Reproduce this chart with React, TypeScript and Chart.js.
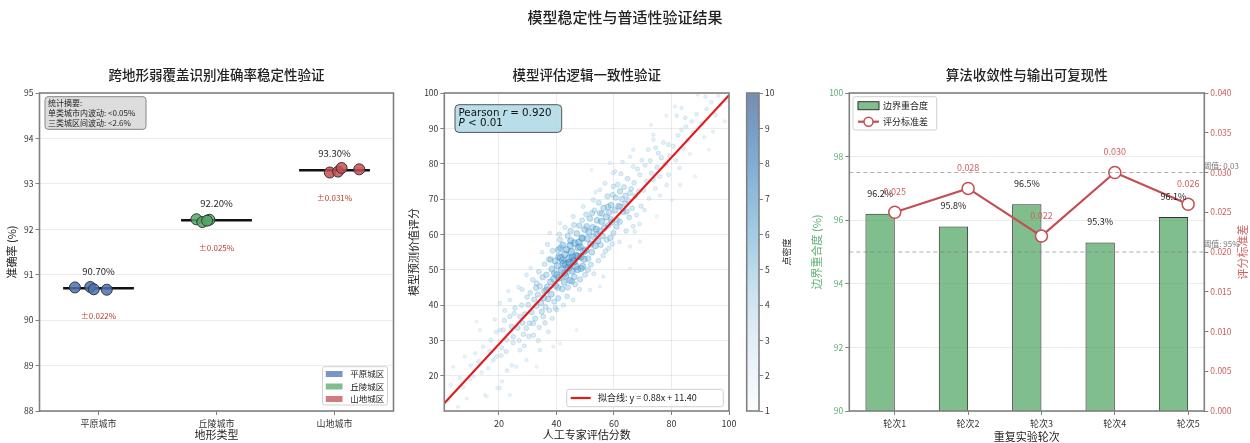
import React, { useEffect, useRef } from 'react';
import { Chart, registerables } from 'chart.js';
Chart.register(...registerables);

const FONT = "'Noto Sans CJK SC', 'DejaVu Sans', sans-serif";
const MATH_FONT = "'DejaVu Sans', sans-serif";

// ---------- titles ----------
const mainTitle = '模型稳定性与普适性验证结果';
const panelTitles = ['跨地形弱覆盖识别准确率稳定性验证', '模型评估逻辑一致性验证', '算法收敛性与输出可复现性'];

// ---------- panel 1: accuracy stability ----------
const terrainCities = ['平原城市', '丘陵城市', '山地城市'];
const terrainZones = ['平原城区', '丘陵城区', '山地城区'];
const terrainColors = ['#4C72B0', '#55A868', '#C44E52'];
const terrainMeans = [90.7, 92.2, 93.3];
const terrainStd = [0.022, 0.025, 0.031];
const plainJitter = [-0.2, -0.07, -0.04, 0.07];
const plainAccuracy = [90.72, 90.73, 90.68, 90.67];
const hillJitter = [-0.17, -0.12, -0.06, -0.08];
const hillAccuracy = [92.22, 92.16, 92.21, 92.19];
const mountainJitter = [-0.04, 0.03, 0.06, 0.21];
const mountainAccuracy = [93.25, 93.27, 93.35, 93.32];
const accuracyTicks = [88, 89, 90, 91, 92, 93, 94, 95];
const statsLines = ['统计摘要:', '单类城市内波动: <0.05%', '三类城区间波动: <2.6%'];

// ---------- panel 2: consistency scatter ----------
const expertModelPairs: number[][] = [
  [4.1,22.6],[5.8,11.3],[6.4,19.4],[8.8,13.6],[9.9,19.0],[11.1,19.9],[12.2,35.4],[13.4,33.0],[14.5,28.3],[15.1,14.6],[15.8,14.2],[16.3,22.2],[18.0,24.5],[19.2,25.5],[17.2,30.1],[11.8,26.4],[14.0,21.0],[7.5,16.8],[3.2,17.5],[19.5,16.6],[18.6,36.0],[16.8,27.0],[12.9,24.1],[10.2,23.0],[8.1,25.5],[19.0,32.4],[2.5,13.0],
  [20.3,40.6],[20.3,33.0],[21.5,33.0],[22.7,30.2],[23.8,36.8],[23.8,41.5],[25.0,31.1],[26.1,22.6],[27.3,27.3],[27.3,36.8],[29.6,24.5],[29.6,48.6],[21.0,28.0],[22.0,38.5],[24.4,34.0],[25.6,39.2],[26.5,33.6],[27.9,40.0],[28.5,31.8],[29.0,37.5],[20.8,25.8],[22.5,26.9],[24.9,29.4],[23.3,44.0],[26.8,45.1],[28.2,35.0],[29.8,42.3],[21.9,35.7],[25.3,37.7],[27.0,30.0],[28.8,28.5],[20.3,16.6],[21.1,18.5],[23.8,14.6],[24.5,23.0],[22.8,21.5],[28.0,44.5],[29.5,33.5],
  [30.7,34.9],[31.9,34.9],[33.1,22.6],[34.3,27.3],[35.4,36.8],[36.6,44.3],[33.1,46.2],[38.9,28.3],[30.2,40.1],[30.9,43.5],[31.4,38.0],[31.8,47.2],[32.3,41.6],[32.6,36.2],[33.0,39.8],[33.5,43.0],[33.9,49.5],[34.2,45.4],[34.6,40.7],[34.9,38.2],[35.2,47.9],[35.6,42.1],[35.9,51.6],[36.2,39.5],[36.5,48.6],[36.8,45.2],[37.1,41.8],[37.4,53.0],[37.7,60.4],[37.9,46.6],[38.2,43.1],[38.4,50.2],[38.7,55.4],[39.0,47.4],[39.2,41.0],[39.5,52.5],[39.8,45.5],[30.4,31.2],[32.0,31.5],[34.0,33.7],[36.0,35.0],[37.5,38.6],[38.5,36.3],[39.6,39.2],[31.0,50.5],[35.0,55.0],[36.9,57.2],[33.7,30.0],[37.2,32.5],[39.3,49.0],[38.0,52.9],[35.8,44.0],[32.9,44.9],
  [40.1,48.6],[40.1,38.7],[41.2,63.2],[41.2,58.5],[41.2,29.2],[40.3,51.2],[40.5,45.0],[40.7,55.7],[40.9,47.8],[41.5,53.4],[41.8,49.9],[42.0,44.6],[42.2,57.0],[42.5,51.8],[42.7,46.5],[42.9,54.4],[43.2,48.3],[43.5,55.7],[43.7,42.5],[43.9,59.6],[44.2,50.6],[44.4,53.2],[44.7,47.0],[44.9,61.0],[45.2,55.1],[45.4,49.7],[45.8,65.1],[45.8,41.5],[46.0,52.4],[46.3,57.6],[46.5,45.9],[46.8,54.0],[47.0,33.0],[47.1,60.3],[47.3,50.1],[47.6,56.3],[47.9,62.5],[48.2,56.6],[48.2,47.3],[48.5,53.7],[48.8,58.9],[49.1,51.0],[49.3,67.9],[49.5,55.2],[49.8,61.4],[49.9,48.6],[40.6,42.0],[41.0,60.1],[42.4,40.0],[43.0,62.0],[44.0,45.0],[45.0,58.2],[46.2,48.0],[47.4,53.8],[48.0,44.5],[49.0,59.0],[44.5,52.0],[46.7,51.0],[42.1,52.7],[48.6,50.4],[45.6,53.5],[41.4,56.2],[43.3,51.5],[47.8,57.8],[49.6,53.0],[44.8,56.9],[46.1,62.7],[42.8,49.1],[40.8,53.7],[48.9,64.0],[45.3,46.8],
  [50.5,62.3],[51.7,44.3],[52.2,78.3],[52.8,69.8],[55.1,72.6],[55.1,66.0],[55.1,45.3],[56.3,48.1],[57.5,58.5],[58.6,80.2],[59.8,77.4],[59.8,73.6],[59.8,60.4],[50.2,55.6],[50.7,58.8],[51.0,53.2],[51.3,60.7],[51.6,64.5],[51.9,57.3],[52.3,55.0],[52.6,62.0],[52.9,59.4],[53.2,66.8],[53.5,56.8],[53.8,61.5],[54.1,64.0],[54.4,58.2],[54.7,69.0],[55.0,61.0],[55.4,57.0],[55.7,63.7],[56.0,59.6],[56.4,67.5],[56.7,61.9],[57.0,55.3],[57.3,64.9],[57.7,70.8],[58.0,62.6],[58.3,66.2],[58.7,59.0],[59.0,68.3],[59.3,63.5],[59.6,71.2],[50.9,50.0],[52.0,51.5],[53.0,48.9],[54.6,52.6],[56.2,54.0],[58.2,56.1],[59.4,57.3],[53.6,72.0],[56.9,74.5],[55.8,65.9],[57.9,67.8],[54.0,60.1],[52.4,66.0],[58.9,64.3],[50.3,65.7],
  [61.0,64.1],[62.1,72.2],[62.1,67.9],[64.4,66.5],[65.6,82.0],[65.6,71.7],[65.6,56.6],[65.6,50.5],[66.7,84.0],[66.7,79.2],[66.7,62.3],[69.0,76.9],[69.0,58.0],[60.3,66.8],[60.6,70.4],[60.9,62.2],[61.3,74.1],[61.6,68.0],[62.0,63.6],[62.4,77.2],[62.8,70.0],[63.2,66.4],[63.5,73.4],[63.9,68.7],[64.2,61.0],[64.7,75.8],[65.0,69.6],[65.3,64.8],[66.0,72.9],[66.3,67.4],[67.0,74.6],[67.4,70.9],[67.8,65.5],[68.2,78.5],[68.6,72.2],[69.4,68.0],[69.7,81.0],[60.4,77.9],[61.9,57.9],[63.0,80.5],[64.0,71.0],[67.2,60.8],[68.9,63.0],
  [71.9,84.0],[73.7,88.2],[73.7,86.8],[73.7,75.5],[74.9,65.1],[75.4,83.0],[78.3,93.6],[78.3,74.0],[78.9,85.4],[70.3,72.5],[70.8,79.6],[71.4,75.0],[72.1,70.2],[72.6,80.9],[73.1,77.3],[74.4,73.0],[75.0,79.0],[75.9,76.4],[76.5,81.7],[77.2,86.0],[77.8,79.9],[79.4,82.2],[70.6,66.9],[72.9,91.0],[76.0,71.0],[79.0,76.9],[74.5,84.5],
  [80.1,69.8],[81.2,96.2],[81.8,93.6],[83.0,74.0],[83.5,95.8],[83.5,89.6],[87.0,92.0],[88.2,76.4],[89.1,99.6],[80.6,85.0],[81.5,81.0],[82.3,88.0],[84.2,84.3],[85.0,90.5],[85.7,86.6],[86.4,82.8],[87.6,88.9],[88.7,94.0],[82.8,78.8],[84.8,93.0],
  [94.5,89.1],[96.3,99.2],[98.6,92.0],[90.5,91.3],[91.4,87.5],[92.2,95.5],[93.0,84.0],[95.3,93.8],[97.0,96.5],[99.0,97.8],[91.8,99.0],[93.9,97.4],
];
const fitSlope = 0.88;
const fitIntercept = 11.4;
const pearsonR = 0.92;
const expertRange = [1, 100];
const modelRange = [10.1, 100];
const scoreTicks = [20, 40, 60, 80, 100];
const modelTicks = [20, 30, 40, 50, 60, 70, 80, 90, 100];
const densityTicks = [1, 2, 3, 4, 5, 6, 7, 8, 9, 10];

// ---------- panel 3: convergence ----------
const rounds = ['轮次1', '轮次2', '轮次3', '轮次4', '轮次5'];
const boundaryOverlap = [96.2, 95.8, 96.5, 95.3, 96.1];
const scoreStd = [0.025, 0.028, 0.022, 0.03, 0.026];
const overlapThreshold = 95;
const stdThreshold = 0.03;
const overlapTicks = [90, 92, 94, 96, 98, 100];
const stdTicks = [0, 0.005, 0.01, 0.015, 0.02, 0.025, 0.03, 0.035, 0.04];

// ---------- helpers ----------
const BLUES = [[247,251,255],[222,235,247],[198,219,239],[158,202,225],[107,174,214],[66,146,198],[33,113,181],[8,81,156],[8,48,107]];
function blues(t: number) {
  t = Math.max(0, Math.min(1, t));
  const s = t * 8;
  const i = Math.min(7, Math.floor(s));
  const f = s - i;
  const a = BLUES[i], b = BLUES[i + 1];
  return a.map((v, k) => Math.round(v + (b[k] - v) * f)).join(',');
}
function rgba(hex: string, a: number) {
  const n = parseInt(hex.slice(1), 16);
  return `rgba(${(n >> 16) & 255},${(n >> 8) & 255},${n & 255},${a})`;
}
type TOpt = { size?: number; color?: string; align?: CanvasTextAlign; baseline?: CanvasTextBaseline; weight?: string; rotate?: number; family?: string; style?: string };
function drawText(ctx: CanvasRenderingContext2D, s: string, x: number, y: number, o: TOpt = {}) {
  ctx.save();
  ctx.font = `${o.style || 'normal'} ${o.weight || 'normal'} ${o.size || 9}px ${o.family || FONT}`;
  ctx.fillStyle = o.color || '#222';
  ctx.textAlign = o.align || 'center';
  ctx.textBaseline = o.baseline || 'middle';
  ctx.translate(x, y);
  if (o.rotate) ctx.rotate(o.rotate);
  ctx.fillText(s, 0, 0);
  ctx.restore();
}
function drawRuns(ctx: CanvasRenderingContext2D, runs: [string, boolean][], x: number, y: number, size: number) {
  ctx.save();
  ctx.fillStyle = '#111';
  ctx.textBaseline = 'middle';
  ctx.textAlign = 'left';
  let cx = x;
  runs.forEach(([s, italic]) => {
    ctx.font = `${italic ? 'italic' : 'normal'} normal ${size}px ${MATH_FONT}`;
    ctx.fillText(s, cx, y);
    cx += ctx.measureText(s).width;
  });
  ctx.restore();
}
function roundBox(ctx: CanvasRenderingContext2D, x: number, y: number, w: number, h: number, r: number, fill: string, stroke: string, lw = 1) {
  ctx.save();
  ctx.beginPath();
  ctx.moveTo(x + r, y);
  ctx.lineTo(x + w - r, y);
  ctx.arcTo(x + w, y, x + w, y + r, r);
  ctx.lineTo(x + w, y + h - r);
  ctx.arcTo(x + w, y + h, x + w - r, y + h, r);
  ctx.lineTo(x + r, y + h);
  ctx.arcTo(x, y + h, x, y + h - r, r);
  ctx.lineTo(x, y + r);
  ctx.arcTo(x, y, x + r, y, r);
  ctx.closePath();
  ctx.fillStyle = fill;
  ctx.fill();
  ctx.strokeStyle = stroke;
  ctx.lineWidth = lw;
  ctx.stroke();
  ctx.restore();
}
const framePlugin = {
  id: 'frame',
  afterDraw(chart: any) {
    const { ctx, chartArea: a } = chart;
    ctx.save();
    ctx.strokeStyle = '#808080';
    ctx.lineWidth = 1.6;
    ctx.strokeRect(a.left, a.top, a.right - a.left, a.bottom - a.top);
    ctx.restore();
  },
};
const GRID = 'rgba(0,0,0,0.08)';
const TICKC = '#808080';
const TITLE_WEIGHT = '500';
const baseOptions = {
  animation: false,
  responsive: false,
  devicePixelRatio: 1,
  events: [],
  plugins: { legend: { display: false }, tooltip: { enabled: false } },
};
function fixedTicks(values: number[]) {
  return (s: any) => { s.ticks = values.map((v) => ({ value: v })); };
}

// ---------- panel 1 ----------
function buildPanel1(canvas: HTMLCanvasElement) {
  const groups = [
    { jitter: plainJitter, acc: plainAccuracy },
    { jitter: hillJitter, acc: hillAccuracy },
    { jitter: mountainJitter, acc: mountainAccuracy },
  ];
  const datasets: any[] = [];
  groups.forEach((g, gi) => {
    datasets.push({
      type: 'scatter',
      data: g.jitter.map((dx, i) => ({ x: gi + dx, y: g.acc[i] })),
      backgroundColor: rgba(terrainColors[gi], 0.85),
      borderColor: '#333',
      borderWidth: 1,
      pointRadius: 5.5,
      order: 0,
    });
  });
  terrainMeans.forEach((m, gi) => {
    datasets.push({
      type: 'line',
      data: [{ x: gi - 0.3, y: m }, { x: gi + 0.3, y: m }],
      borderColor: '#111',
      borderWidth: 2.5,
      pointRadius: 0,
      order: 1,
    });
  });
  const overlay = {
    id: 'p1',
    afterDraw(chart: any) {
      const { ctx, chartArea: ca, scales } = chart;
      const xs = scales.x, ys = scales.y;
      const cx = (ca.left + ca.right) / 2;
      drawText(ctx, panelTitles[0], cx, 75, { size: 13.5, weight: TITLE_WEIGHT });
      drawText(ctx, '准确率 (%)', 12, (ca.top + ca.bottom) / 2, { size: 11, rotate: -Math.PI / 2 });
      drawText(ctx, '地形类型', cx, 435, { size: 11 });
      terrainMeans.forEach((m, gi) => {
        const px = xs.getPixelForValue(gi);
        drawText(ctx, m.toFixed(2) + '%', px, ys.getPixelForValue(m + 0.38), { size: 9.5 });
        drawText(ctx, '±' + terrainStd[gi].toFixed(3) + '%', px, ys.getPixelForValue(m - 0.6), { size: 8, color: '#C0392B' });
      });
      // stats box
      const bx = ca.left + 5.5, by = ca.top + 3.7;
      roundBox(ctx, bx, by, 101, 32.6, 3, 'rgba(215,215,215,0.85)', '#888');
      statsLines.forEach((s, i) => drawText(ctx, s, bx + 3, by + 6.5 + i * 10, { size: 8, align: 'left' }));
      // legend
      const lx = ca.right - 71, ly = ca.bottom - 44.3;
      roundBox(ctx, lx, ly, 65, 38.3, 2, 'rgba(255,255,255,0.85)', '#d0d0d0');
      terrainZones.forEach((s, i) => {
        const cy = ly + 7.3 + i * 12.5;
        ctx.fillStyle = rgba(terrainColors[i], 0.75);
        ctx.fillRect(lx + 3.3, cy - 3, 16.7, 6);
        drawText(ctx, s, lx + 27.7, cy, { size: 8.5, align: 'left' });
      });
    },
  };
  return new Chart(canvas, {
    type: 'scatter',
    data: { datasets },
    options: {
      ...baseOptions,
      layout: { padding: { left: 0, top: 93, right: 4, bottom: 0 } },
      scales: {
        x: {
          type: 'linear', min: -0.5, max: 2.5,
          afterBuildTicks: fixedTicks([0, 1, 2]),
          afterFit: (s: any) => { s.height = 32; },
          ticks: { callback: (_v: any, i: number) => terrainCities[i], font: { size: 9, family: FONT }, color: '#333', padding: 3, maxRotation: 0, autoSkip: false },
          grid: { drawOnChartArea: false, tickLength: 4, tickColor: TICKC },
          border: { display: false },
        },
        y: {
          type: 'linear', min: 88, max: 95,
          afterBuildTicks: fixedTicks(accuracyTicks),
          afterFit: (s: any) => { s.width = 39.5; },
          ticks: { callback: (v: any) => String(v), font: { size: 8.5, family: FONT }, color: '#333', padding: 2 },
          grid: { color: GRID, tickLength: 4, tickColor: TICKC },
          border: { display: false },
        },
      },
    } as any,
    plugins: [framePlugin, overlay] as any,
  });
}

// ---------- panel 2 ----------
function buildPanel2(canvas: HTMLCanvasElement) {
  const pts = expertModelPairs.map(([x, y]) => ({ x, y }));
  const counts = pts.map((p) => pts.reduce((n, q) => n + ((q.x - p.x) ** 2 + (q.y - p.y) ** 2 < 36 ? 1 : 0), 0));
  const maxC = Math.max(...counts);
  const level = counts.map((c) => 1 + (9 * (c - 1)) / Math.max(1, maxC - 1));
  const order = pts.map((_, i) => i).sort((a, b) => level[a] - level[b]);
  const tOf = (i: number) => 0.12 + ((level[i] - 1) / 9) * 0.5;
  const scatter = {
    type: 'scatter',
    data: order.map((i) => pts[i]),
    backgroundColor: order.map((i) => `rgba(${blues(tOf(i))},0.45)`),
    borderColor: order.map((i) => `rgba(${blues(tOf(i) + 0.12)},0.55)`),
    borderWidth: 0.7,
    pointRadius: order.map((i) => 1.4 + (level[i] - 1) * 0.26),
    order: 1,
  };
  const fit = {
    type: 'line',
    data: [expertRange[0], expertRange[1]].map((x) => ({ x, y: fitSlope * x + fitIntercept })),
    borderColor: '#E41A1C',
    borderWidth: 2.2,
    pointRadius: 0,
    order: 0,
  };
  const overlay = {
    id: 'p2',
    afterDraw(chart: any) {
      const { ctx, chartArea: ca } = chart;
      const cx = (ca.left + ca.right) / 2;
      drawText(ctx, mainTitle, 625 - 400, 17, { size: 15, weight: TITLE_WEIGHT });
      drawText(ctx, panelTitles[1], cx, 75, { size: 13.5, weight: TITLE_WEIGHT });
      drawText(ctx, '模型预测价值评分', 14, (ca.top + ca.bottom) / 2, { size: 11, rotate: -Math.PI / 2 });
      drawText(ctx, '人工专家评估分数', cx, 435, { size: 11 });
      // Pearson box
      const bx = ca.left + 10.7, by = ca.top + 11.7;
      roundBox(ctx, bx, by, 106.7, 27.7, 4, 'rgba(173,216,230,0.85)', '#555');
      drawRuns(ctx, [['Pearson ', false], ['r', true], [' = ' + pearsonR.toFixed(3), false]], bx + 3.5, by + 8.3, 10.3);
      drawRuns(ctx, [['P', true], [' < 0.01', false]], bx + 3.5, by + 18.3, 10.3);
      // legend
      const lx = ca.right - 162.3, ly = ca.bottom - 21.7;
      roundBox(ctx, lx, ly, 156.6, 17.4, 2, 'rgba(255,255,255,0.85)', '#d0d0d0');
      ctx.save();
      ctx.strokeStyle = '#E41A1C';
      ctx.lineWidth = 2.2;
      ctx.beginPath();
      ctx.moveTo(lx + 4, ly + 8.7);
      ctx.lineTo(lx + 24, ly + 8.7);
      ctx.stroke();
      ctx.restore();
      drawText(ctx, `拟合线: y = ${fitSlope.toFixed(2)}x + ${fitIntercept.toFixed(2)}`, lx + 31.3, ly + 8.7, { size: 9, align: 'left' });
    },
  };
  return new Chart(canvas, {
    type: 'scatter',
    data: { datasets: [fit, scatter] as any },
    options: {
      ...baseOptions,
      layout: { padding: { left: 0, top: 93, right: 11, bottom: 0 } },
      scales: {
        x: {
          type: 'linear', min: expertRange[0], max: expertRange[1],
          afterBuildTicks: fixedTicks(scoreTicks),
          afterFit: (s: any) => { s.height = 32; },
          ticks: { callback: (v: any) => String(v), font: { size: 9, family: FONT }, color: '#333', padding: 3, maxRotation: 0 },
          grid: { color: GRID, tickLength: 4, tickColor: TICKC },
          border: { display: false },
        },
        y: {
          type: 'linear', min: modelRange[0], max: modelRange[1],
          afterBuildTicks: fixedTicks(modelTicks),
          afterFit: (s: any) => { s.width = 44.3; },
          ticks: { callback: (v: any) => String(v), font: { size: 8.5, family: FONT }, color: '#333', padding: 2 },
          grid: { color: GRID, tickLength: 4, tickColor: TICKC },
          border: { display: false },
        },
      },
    } as any,
    plugins: [framePlugin, overlay] as any,
  });
}

// ---------- colour bar ----------
function buildColorbar(canvas: HTMLCanvasElement) {
  const gradientPlugin = {
    id: 'cbar',
    beforeDatasetsDraw(chart: any) {
      const { ctx, chartArea: ca } = chart;
      const g = ctx.createLinearGradient(0, ca.bottom, 0, ca.top);
      for (let k = 0; k <= 8; k++) g.addColorStop(k / 8, `rgba(${BLUES[k].join(',')},0.55)`);
      ctx.save();
      ctx.fillStyle = '#fff';
      ctx.fillRect(ca.left, ca.top, ca.right - ca.left, ca.bottom - ca.top);
      ctx.fillStyle = g;
      ctx.fillRect(ca.left, ca.top, ca.right - ca.left, ca.bottom - ca.top);
      ctx.restore();
    },
    afterDraw(chart: any) {
      const { ctx, chartArea: ca } = chart;
      drawText(ctx, '点密度', 47, (ca.top + ca.bottom) / 2, { size: 9, rotate: -Math.PI / 2 });
    },
  };
  return new Chart(canvas, {
    type: 'scatter',
    data: { datasets: [{ data: [] }] },
    options: {
      ...baseOptions,
      layout: { padding: { left: 6.7, top: 93, right: 0, bottom: 32 } },
      scales: {
        x: { type: 'linear', display: false, min: 0, max: 1 },
        y: {
          type: 'linear', position: 'right', min: densityTicks[0], max: densityTicks[densityTicks.length - 1],
          afterBuildTicks: fixedTicks(densityTicks),
          afterFit: (s: any) => { s.width = 41; },
          ticks: { callback: (v: any) => String(v), font: { size: 8.5, family: FONT }, color: '#333', padding: 2 },
          grid: { drawOnChartArea: false, tickLength: 4, tickColor: TICKC },
          border: { display: false },
        },
      },
    } as any,
    plugins: [gradientPlugin, framePlugin] as any,
  });
}

// ---------- panel 3 ----------
const GREEN_TXT = '#5BAF72';
const RED_TXT = '#D0605F';
function buildPanel3(canvas: HTMLCanvasElement) {
  const bars = {
    type: 'bar',
    data: boundaryOverlap.map((v, i) => ({ x: i - 0.2, y: v })),
    backgroundColor: rgba('#55A868', 0.75),
    borderColor: '#333',
    borderWidth: 1,
    borderSkipped: false,
    barPercentage: 0.4,
    categoryPercentage: 1,
    yAxisID: 'y',
    order: 1,
  };
  const line = {
    type: 'line',
    data: scoreStd.map((v, i) => ({ x: i, y: v })),
    borderColor: '#C44E52',
    borderWidth: 2.2,
    pointRadius: 6,
    pointBackgroundColor: '#fff',
    pointBorderColor: '#C44E52',
    pointBorderWidth: 1.5,
    yAxisID: 'y2',
    order: 0,
  };
  const thresholds = {
    id: 'thr',
    afterDatasetsDraw(chart: any) {
      const { ctx, chartArea: ca, scales } = chart;
      const ys = [scales.y.getPixelForValue(overlapThreshold), scales.y2.getPixelForValue(stdThreshold)];
      ctx.save();
      ctx.strokeStyle = 'rgba(120,120,120,0.6)';
      ctx.lineWidth = 1;
      ctx.setLineDash([4, 3]);
      ys.forEach((y) => { ctx.beginPath(); ctx.moveTo(ca.left, y); ctx.lineTo(ca.right, y); ctx.stroke(); });
      ctx.restore();
    },
  };
  const overlay = {
    id: 'p3',
    afterDraw(chart: any) {
      const { ctx, chartArea: ca, scales } = chart;
      const xs = scales.x, yl = scales.y, yr = scales.y2;
      const cx = (ca.left + ca.right) / 2;
      const mid = (ca.top + ca.bottom) / 2;
      drawText(ctx, panelTitles[2], cx, 75, { size: 13.5, weight: TITLE_WEIGHT });
      drawText(ctx, '边界重合度 (%)', 17, mid, { size: 11, rotate: -Math.PI / 2, color: GREEN_TXT });
      drawText(ctx, '评分标准差', 443, mid, { size: 11, rotate: -Math.PI / 2, color: RED_TXT });
      drawText(ctx, '重复实验轮次', cx, 437, { size: 11 });
      boundaryOverlap.forEach((v, i) => {
        drawText(ctx, v.toFixed(1) + '%', xs.getPixelForValue(i - 0.2), yl.getPixelForValue(v + 0.65), { size: 9 });
      });
      scoreStd.forEach((v, i) => {
        drawText(ctx, v.toFixed(3), xs.getPixelForValue(i), yr.getPixelForValue(v + 0.0026), { size: 9, color: RED_TXT });
      });
      drawText(ctx, `阈值: ${stdThreshold}`, ca.right - 1, yr.getPixelForValue(stdThreshold) - 6.5, { size: 8, align: 'left', color: '#777' });
      drawText(ctx, `阈值: ${overlapThreshold}%`, ca.right - 1, yl.getPixelForValue(overlapThreshold) - 8.5, { size: 8, align: 'left', color: '#777' });
      // legend
      const lx = ca.left + 3.7, ly = ca.top + 3.7;
      roundBox(ctx, lx, ly, 83.7, 33.3, 2, 'rgba(255,255,255,0.85)', '#d0d0d0');
      ctx.save();
      ctx.fillStyle = rgba('#55A868', 0.75);
      ctx.strokeStyle = '#333';
      ctx.lineWidth = 1;
      ctx.fillRect(lx + 5, ly + 5, 21, 8);
      ctx.strokeRect(lx + 5, ly + 5, 21, 8);
      ctx.strokeStyle = '#C44E52';
      ctx.lineWidth = 2.2;
      ctx.beginPath();
      ctx.moveTo(lx + 5, ly + 25);
      ctx.lineTo(lx + 26, ly + 25);
      ctx.stroke();
      ctx.beginPath();
      ctx.arc(lx + 15.5, ly + 25, 4.5, 0, Math.PI * 2);
      ctx.fillStyle = '#fff';
      ctx.fill();
      ctx.lineWidth = 1.5;
      ctx.stroke();
      ctx.restore();
      drawText(ctx, '边界重合度', lx + 30, ly + 9, { size: 9, align: 'left' });
      drawText(ctx, '评分标准差', lx + 30, ly + 25, { size: 9, align: 'left' });
    },
  };
  return new Chart(canvas, {
    type: 'bar',
    data: { datasets: [line, bars] as any },
    options: {
      ...baseOptions,
      layout: { padding: { left: 0, top: 93, right: 0, bottom: 0 } },
      scales: {
        x: {
          type: 'linear', min: -0.62, max: 4.22, offset: false,
          afterBuildTicks: fixedTicks(rounds.map((_, i) => i)),
          afterFit: (s: any) => { s.height = 32; },
          ticks: { callback: (_v: any, i: number) => rounds[i], font: { size: 9, family: FONT }, color: '#333', padding: 3, maxRotation: 0, autoSkip: false },
          grid: { drawOnChartArea: false, offset: false, tickLength: 4, tickColor: TICKC },
          border: { display: false },
        },
        y: {
          type: 'linear', position: 'left', min: 90, max: 100,
          afterBuildTicks: fixedTicks(overlapTicks),
          afterFit: (s: any) => { s.width = 49.3; },
          ticks: { callback: (v: any) => String(v), font: { size: 8.5, family: FONT }, color: GREEN_TXT, padding: 2 },
          grid: { color: GRID, tickLength: 4, tickColor: TICKC },
          border: { display: false },
        },
        y2: {
          type: 'linear', position: 'right', min: 0, max: 0.04,
          afterBuildTicks: fixedTicks(stdTicks),
          afterFit: (s: any) => { s.width = 45.7; },
          ticks: { callback: (v: any) => Number(v).toFixed(3), font: { size: 8.5, family: FONT }, color: RED_TXT, padding: 2 },
          grid: { drawOnChartArea: false, tickLength: 4, tickColor: TICKC },
          border: { display: false },
        },
      },
    } as any,
    plugins: [thresholds, framePlugin, overlay] as any,
  });
}

export default function App() {
  const c1 = useRef<HTMLCanvasElement>(null);
  const c2 = useRef<HTMLCanvasElement>(null);
  const c3 = useRef<HTMLCanvasElement>(null);
  const c4 = useRef<HTMLCanvasElement>(null);
  useEffect(() => {
    document.body.style.margin = '0';
    const charts = [
      buildPanel1(c1.current!),
      buildPanel2(c2.current!),
      buildColorbar(c3.current!),
      buildPanel3(c4.current!),
    ];
    return () => charts.forEach((c) => c.destroy());
  }, []);
  const pos = (left: number, width: number): React.CSSProperties => ({ position: 'absolute', left, top: 0, width, height: 443 });
  return (
    <div style={{ position: 'relative', width: 1250, height: 443, background: '#fff', overflow: 'hidden' }}>
      <canvas ref={c1} width={400} height={443} style={pos(0, 400)} />
      <canvas ref={c2} width={340} height={443} style={pos(400, 340)} />
      <canvas ref={c3} width={60} height={443} style={pos(740, 60)} />
      <canvas ref={c4} width={450} height={443} style={pos(800, 450)} />
    </div>
  );
}
